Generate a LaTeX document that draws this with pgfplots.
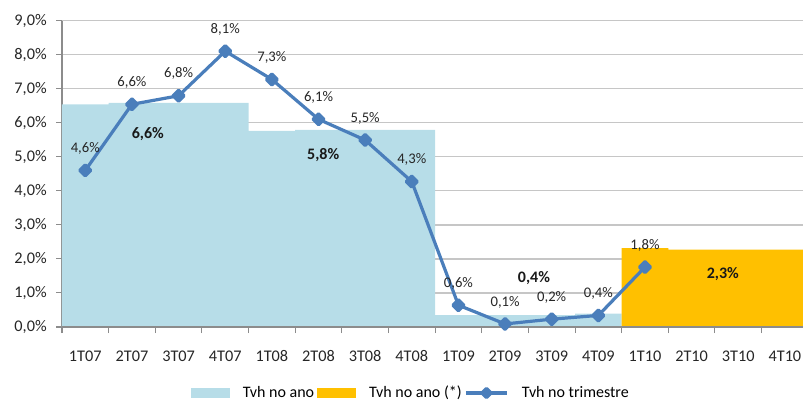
\documentclass[border=0pt]{standalone}
\usepackage{pgfplots}
\pgfplotsset{compat=1.18}
\usepackage{fontspec}
\setmainfont{Carlito}
\definecolor{barblue}{HTML}{B7DDE8}
\definecolor{baryel}{HTML}{FFC000}
\definecolor{linblue}{HTML}{4A7EBB}
\definecolor{gridc}{HTML}{C6C6C6}
\definecolor{axc}{HTML}{8C8C8C}
\begin{document}
\begin{tikzpicture}[x=1pt,y=1pt]
\begin{axis}[
  at={(0pt,0pt)}, anchor=south west,
  scale only axis, width=555.75pt, height=229.875pt,
  xmin=-0.5, xmax=15.388, ymin=0, ymax=9,
  axis x line*=bottom, axis y line*=left,
  axis line style={axc, line width=1pt, -},
  ytick={0,1,...,9},
  yticklabels={{0,0\%},{1,0\%},{2,0\%},{3,0\%},{4,0\%},{5,0\%},{6,0\%},{7,0\%},{8,0\%},{9,0\%}},
  ymajorgrids, grid style={gridc, line width=1pt},
  tick align=outside, major tick length=4.5pt,
  tick style={axc, line width=0.8pt},
  xtick={-0.5,0.5,...,14.5}, xticklabels={},
  extra x ticks={0,1,...,15},
  extra x tick labels={1T07,2T07,3T07,4T07,1T08,2T08,3T08,4T08,1T09,2T09,3T09,4T09,1T10,2T10,3T10,4T10},
  extra x tick style={major tick length=0pt, grid=none, xticklabel style={anchor=center, yshift=-21.75pt}},
  ticklabel style={font=\fontsize{12.2}{14}\selectfont, text=black!85},
  yticklabel style={anchor=east, xshift=-3.5pt},
  legend style={at={(0.471,-0.2153)}, anchor=center, draw=none, fill=none,
    legend columns=3, font=\fontsize{12}{14}\selectfont,
    /tikz/every odd column/.append style={column sep=8pt}},
  legend cell align=left,
]
\addplot[ybar, bar width=1, bar shift=0pt, fill=barblue, draw=none,
  legend image code/.code={\fill[barblue] (0pt,-3.75pt) rectangle (29.25pt,3.75pt);}]
  coordinates {(0,6.54)(1,6.58)(2,6.58)(3,6.58)(4,5.76)(5,5.79)(6,5.79)(7,5.79)(8,0.35)(9,0.35)(10,0.35)(11,0.39)};
\addlegendentry{Tvh no ano}
\addplot[ybar, bar width=1, bar shift=0pt, fill=baryel, draw=none,
  legend image code/.code={\fill[baryel] (0pt,-3.75pt) rectangle (29.25pt,3.75pt);}]
  coordinates {(12,2.32)(13,2.27)(14,2.27)(15,2.27)};
\addlegendentry{Tvh no ano (*)}
\addplot[linblue, line width=2.4pt, line join=round,
  mark=square*, mark size=2.9pt, mark options={solid, rotate=45},
  nodes near coords, point meta=explicit symbolic,
  nodes near coords style={anchor=center, yshift=16.5pt, text=black!85, font=\fontsize{11}{13}\selectfont},
  legend image code/.code={\draw[linblue, line width=2.4pt, mark=square*, mark size=2.4pt, mark options={solid, rotate=45}, mark repeat=2, mark phase=2] plot coordinates {(0pt,0pt) (15.4pt,0pt) (30.75pt,0pt)};}]
  table[x=x, y=y, meta=lab] {
x y lab
0 4.60 4,6\%
1 6.54 6,6\%
2 6.79 6,8\%
3 8.10 8,1\%
4 7.27 7,3\%
5 6.10 6,1\%
6 5.49 5,5\%
7 4.27 4,3\%
8 0.64 0,6\%
9 0.09 0,1\%
10 0.23 0,2\%
11 0.34 0,4\%
12 1.76 1,8\%
};
\addlegendentry{Tvh no trimestre}
\draw[axc, line width=1pt] (rel axis cs:0,0) -- (rel axis cs:1,0);
\node[font=\bfseries\fontsize{12}{14}\selectfont, text=black!90] at (axis cs:1.34,5.67) {6,6\%};
\node[font=\bfseries\fontsize{12}{14}\selectfont, text=black!90] at (axis cs:5.10,5.05) {5,8\%};
\node[font=\bfseries\fontsize{12}{14}\selectfont, text=black!90] at (axis cs:9.62,1.44) {0,4\%};
\node[font=\bfseries\fontsize{12}{14}\selectfont, text=black!90] at (axis cs:13.67,1.56) {2,3\%};
\end{axis}
\pgfresetboundingbox
\path[use as bounding box] (-46.5pt,-55.5pt) rectangle (555.75pt,245.25pt);
\end{tikzpicture}
\end{document}
